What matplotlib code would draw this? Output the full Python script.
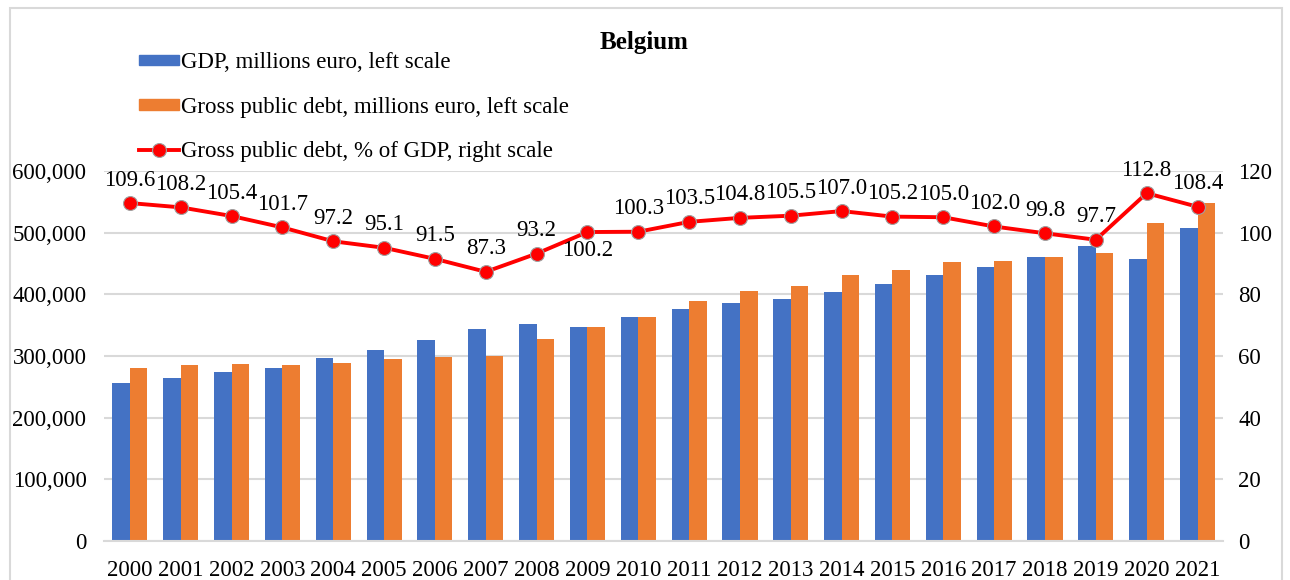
import matplotlib
matplotlib.use("Agg")
import matplotlib.pyplot as plt
from matplotlib.patches import Patch, Rectangle
from matplotlib.lines import Line2D
from matplotlib.ticker import FuncFormatter

plt.rcParams['font.family'] = ['Liberation Serif', 'DejaVu Serif']

years = [str(y) for y in range(2000, 2022)]
gdp = [256700, 264000, 273500, 281000, 296000, 310000, 325500, 344000, 351400,
       346500, 363700, 375700, 386500, 392400, 403200, 417300, 430800, 444300,
       460000, 478400, 457300, 507000]
debt = [281000, 285400, 287000, 285000, 288600, 295000, 298000, 299500, 327000,
        346500, 363700, 389700, 405000, 414000, 430800, 439000, 452000, 454000,
        460000, 467500, 515200, 548600]
debt_pct = [109.6, 108.2, 105.4, 101.7, 97.2, 95.1, 91.5, 87.3, 93.2, 100.2,
            100.3, 103.5, 104.8, 105.5, 107.0, 105.2, 105.0, 102.0, 99.8, 97.7,
            112.8, 108.4]

blue = '#4472C4'
orange = '#ED7D31'
red = '#FF0000'
grid = '#D9D9D9'
fs = 16.5

fig = plt.figure(figsize=(12.9, 5.8), dpi=100)
ax = fig.add_axes([0.081, 0.0672, 0.867, 0.638])
ax2 = ax.twinx()

x = list(range(len(years)))
w = 0.345
ax.bar([i - w / 2 for i in x], gdp, width=w, color=blue, zorder=2)
ax.bar([i + w / 2 for i in x], debt, width=w, color=orange, zorder=2)

ax.set_xlim(-0.5, len(years) - 0.5)
ax.set_ylim(0, 600000)
ax.set_yticks(range(0, 600001, 100000))
ax.yaxis.set_major_formatter(FuncFormatter(lambda v, p: f'{int(v):,}'))
ax.set_xticks(x)
ax.set_xticklabels(years)
ax.grid(axis='y', color=grid, linewidth=1.5, zorder=0)
ax.set_axisbelow(True)
for s in ['top', 'left', 'right']:
    ax.spines[s].set_visible(False)
    ax2.spines[s].set_visible(False)
ax.spines['bottom'].set_color(grid)
ax.spines['bottom'].set_linewidth(1.5)
ax2.spines['bottom'].set_visible(False)
ax.tick_params(axis='x', length=0, pad=14, labelsize=fs)
ax.tick_params(axis='y', length=0, pad=13, labelsize=fs)

ax2.plot(x, debt_pct, color=red, linewidth=2.8, marker='o', markersize=10,
         markerfacecolor=red, markeredgecolor='#A0A0A0', markeredgewidth=0.8, zorder=3)
ax2.set_ylim(0, 120)
ax2.set_yticks(range(0, 121, 20))
ax2.tick_params(axis='y', length=0, pad=11, labelsize=fs)

for i, v in enumerate(debt_pct):
    if years[i] == '2009':
        ax2.annotate(f'{v:.1f}', (i, v), xytext=(0, -6), textcoords='offset points',
                     ha='center', va='top', fontsize=fs)
    else:
        ax2.annotate(f'{v:.1f}', (i, v), xytext=(0, 9), textcoords='offset points',
                     ha='center', va='bottom', fontsize=fs)

fig.text(0.499, 1 - 42 / 580, 'Belgium', ha='center', va='center',
         fontsize=18, fontweight='bold')

handles = [Patch(color=blue), Patch(color=orange),
           Line2D([], [], color=red, linewidth=2.8, marker='o', markersize=10,
                  markerfacecolor=red, markeredgecolor='#A0A0A0', markeredgewidth=0.8)]
labels = ['GDP, millions euro, left scale',
          'Gross public debt, millions euro, left scale',
          'Gross public debt, % of GDP, right scale']
fig.legend(handles, labels, loc='upper left', bbox_to_anchor=(0.1075, 0.91),
           frameon=False, fontsize=fs, labelspacing=1.02, handlelength=1.75,
           handleheight=0.35, handletextpad=0.1, borderpad=0, borderaxespad=0)

fig.patches.append(Rectangle((10 / 1290, -0.01), 1272 / 1290, 1 - 8 / 580 + 0.01,
                             transform=fig.transFigure, fill=False,
                             edgecolor='#D9D9D9', linewidth=1.5))

fig.savefig('out.png', dpi=100)
